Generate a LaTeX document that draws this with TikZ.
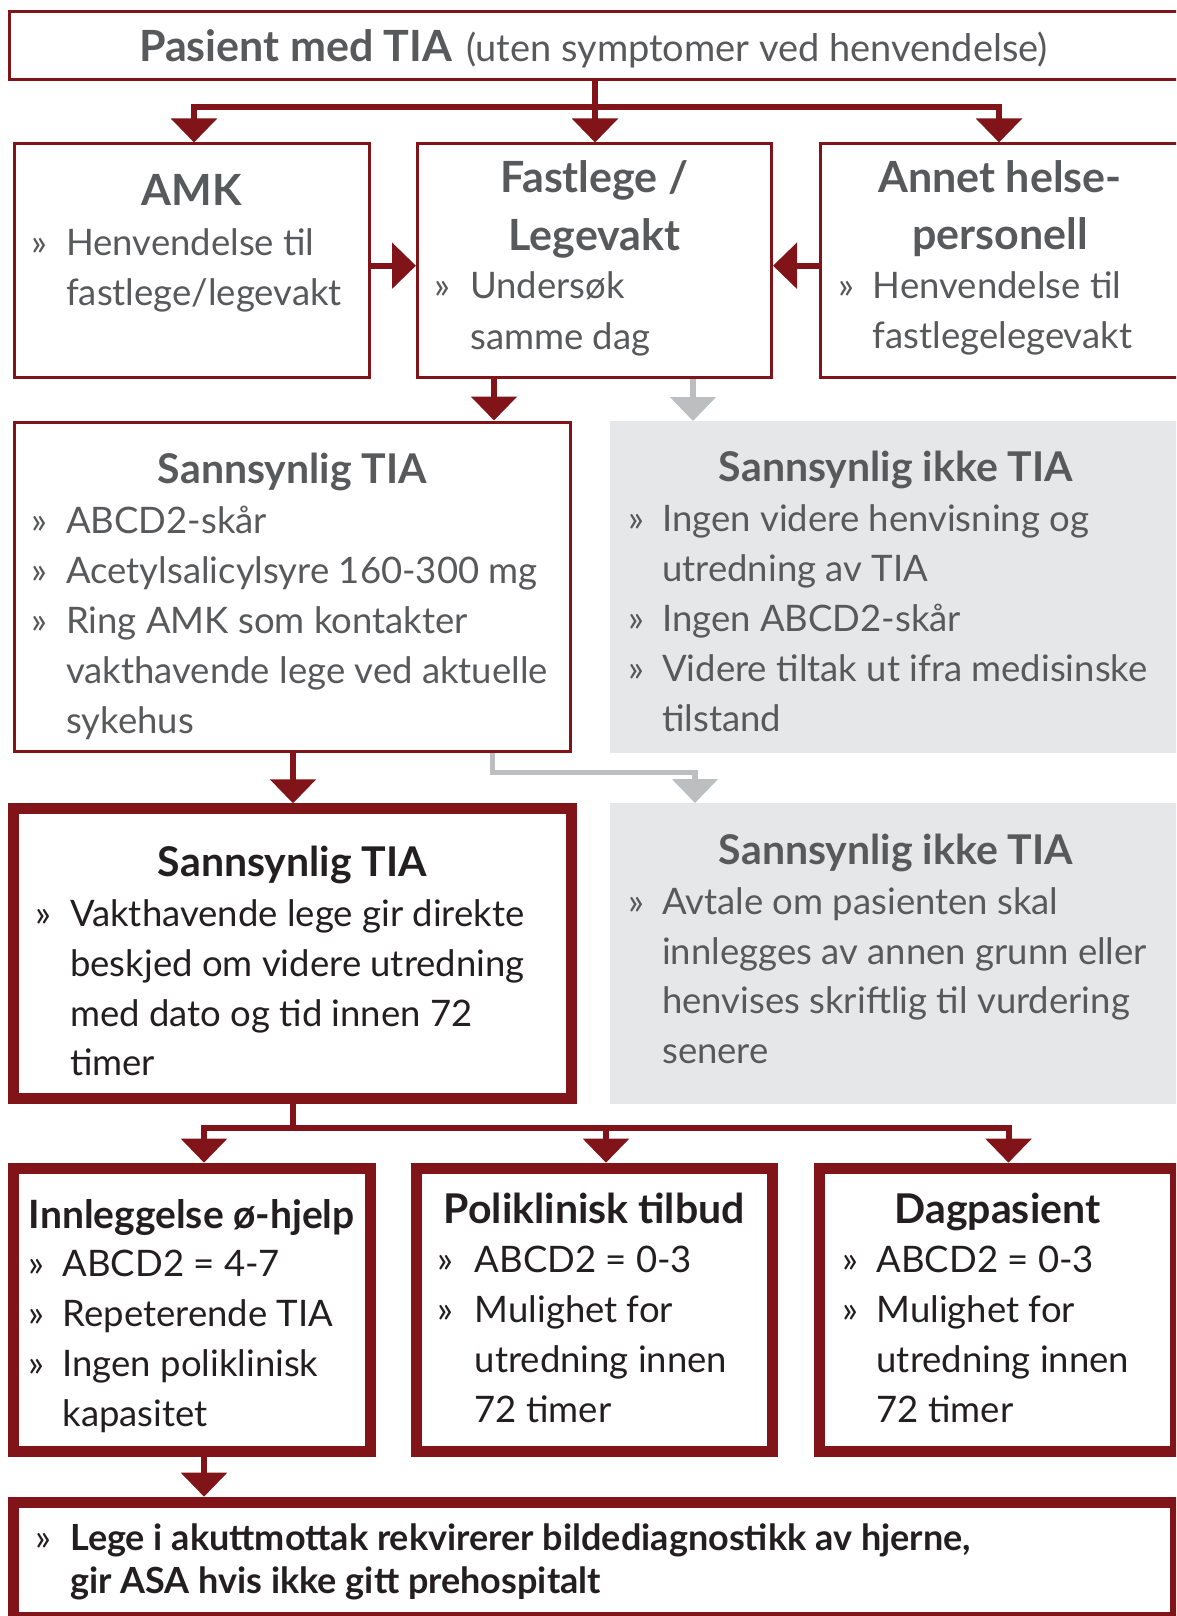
\documentclass[tikz,border=0pt]{standalone}
\usepackage{fontspec}
\setmainfont{Lato}
\usetikzlibrary{arrows.meta}
\definecolor{dkred}{RGB}{128,20,24}
\definecolor{gtxt}{RGB}{88,89,91}
\definecolor{btxt}{RGB}{35,31,32}
\definecolor{gfill}{RGB}{230,231,232}
\definecolor{garrow}{RGB}{188,190,192}
\begin{document}
\begin{tikzpicture}[x=1pt,y=-1pt,
 thinbox/.style={draw=dkred,line width=3pt,inner sep=0pt,fill=white},
 thickbox/.style={draw=dkred,line width=11pt,inner sep=0pt,fill=white},
 graybox/.style={fill=gfill,inner sep=0pt,outer sep=0pt},
 conn/.style={draw=dkred,line width=6pt},
 gconn/.style={draw=garrow,line width=5.5pt},
 arr/.style={-{Triangle[width=45pt,length=24pt]}},
 ttl/.style={anchor=base,inner sep=0pt,font=\fontsize{41}{50}\selectfont\bfseries},
 ttlbig/.style={anchor=base,inner sep=0pt,font=\fontsize{43}{50}\selectfont\bfseries},
 ttlsm/.style={anchor=base,inner sep=0pt,font=\fontsize{39}{50}\selectfont\bfseries},
 bodytxt/.style={anchor=base west,inner sep=0pt,font=\fontsize{36.5}{50}\selectfont},
 bottxt/.style={anchor=base west,inner sep=0pt,font=\fontsize{36}{43}\selectfont\bfseries},
 bul/.style={anchor=base west,inner sep=0pt,font=\fontsize{37}{50}\selectfont},
 gc/.style={text=gtxt}, bc/.style={text=btxt}
]
\useasboundingbox (0,0) rectangle (1176,1616);
\clip (0,0) rectangle (1176,1616);

% boxes
\node[thinbox,minimum width=1177pt,minimum height=68pt] (top) at (597.5,46) {};
\node[thinbox,minimum width=355pt,minimum height=233pt] (amk) at (191.5,260.5) {};
\node[thinbox,minimum width=354pt,minimum height=233pt] (fast) at (594.5,260.5) {};
\node[thinbox,minimum width=360.5pt,minimum height=233pt] (annet) at (1000.75,260.5) {};
\node[thinbox,minimum width=556.5pt,minimum height=329.5pt] (tia1) at (292.25,586.75) {};
\node[graybox,minimum width=572pt,minimum height=332pt] (ikke1) at (896,587) {};
\node[graybox,minimum width=572pt,minimum height=301pt] (ikke2) at (896,953.5) {};
\node[thickbox,minimum width=558.3pt,minimum height=289.7pt] (tia2) at (292.35,953.65) {};
\node[thickbox,minimum width=357.1pt,minimum height=283.3pt] (inn) at (191.75,1309.85) {};
\node[thickbox,minimum width=356.4pt,minimum height=283.3pt] (poli) at (594.3,1309.85) {};
\node[thickbox,minimum width=356pt,minimum height=283.3pt] (dag) at (997.5,1309.85) {};
\node[thickbox,minimum width=1162.3pt,minimum height=115pt] (bot) at (594.35,1559.7) {};

% connectors
\coordinate (tM) at (595,106.7);
\coordinate (tL) at (194,106.7);
\coordinate (tR) at (999,106.7);
\draw[conn] (top.south -| tM) -- (tM);
\draw[conn,arr] (tM) -- (tL) -- (amk.north -| tL);
\draw[conn,arr] (tM) -- (tR) -- (annet.north -| tR);
\draw[conn,arr] (tM) -- (fast.north -| tM);

\coordinate (hA) at (392,265.7);
\draw[conn,arr] (amk.east |- hA) -- (fast.west |- hA);
\draw[conn,arr] (annet.west |- hA) -- (fast.east |- hA);

\coordinate (dA) at (494,400);
\coordinate (dB) at (693,400);
\draw[conn,arr] (fast.south -| dA) -- (tia1.north -| dA);
\draw[gconn,arr] (fast.south -| dB) -- (ikke1.north -| dB);

\coordinate (dC) at (293,780);
\draw[conn,arr] (tia1.south -| dC) -- (tia2.north -| dC);
\coordinate (g1) at (492.5,772.7);
\coordinate (g2) at (695,772.7);
\draw[gconn,arr] (tia1.south -| g1) -- (g1) -- (g2) -- (ikke2.north -| g2);

\coordinate (m0) at (293,1128);
\coordinate (mL) at (204,1128);
\coordinate (mM) at (606,1128);
\coordinate (mR) at (1008.5,1128);
\draw[conn] (tia2.south -| m0) -- (m0);
\draw[conn,arr] (m0) -- (mL) -- (inn.north -| mL);
\draw[conn,arr] (m0) -- (mR) -- (dag.north -| mR);
\draw[conn,arr] (mM) -- (poli.north -| mM);
\coordinate (mB) at (204,1470);
\draw[conn,arr] (inn.south -| mB) -- (bot.north -| mB);

% texts: top
\node[anchor=base,inner sep=0pt,gc] (ttop) at (593.5,61.7) {{\fontsize{43}{50}\selectfont\bfseries Pasient med TIA}\hspace{14pt}{\fontsize{38}{50}\selectfont(uten symptomer ved henvendelse)}};

% AMK
\node[ttlbig,gc] (a0) at (191.5,206) {AMK};
\node[bul,gc] (ab1) at (31,255) {»};
\node[bodytxt,gc] (a1) at (66,255) {Henvendelse til};
\node[bodytxt,gc] (a2) at (66,305) {fastlege/legevakt};

% Fastlege
\node[ttlbig,gc] (f0) at (594.5,192.7) {Fastlege /};
\node[ttlbig,gc] (f00) at (594.5,250) {Legevakt};
\node[bul,gc] (fb1) at (434.5,298.3) {»};
\node[bodytxt,gc] (f1) at (470,298.3) {Undersøk};
\node[bodytxt,gc] (f2) at (470,349) {samme dag};

% Annet
\node[ttlbig,gc] (n0) at (1000,192.7) {Annet helse-};
\node[ttlbig,gc] (n00) at (1000,249) {personell};
\node[bul,gc] (nb1) at (838.5,298) {»};
\node[bodytxt,gc] (n1) at (872.6,298) {Henvendelse til};
\node[bodytxt,gc] (n2) at (872.6,348) {fastlegelegevakt};

% TIA1
\node[ttl,gc] (s0) at (292.5,483) {Sannsynlig TIA};
\node[bul,gc] (sb1) at (31.5,533) {»};
\node[bul,gc] (sb2) at (31.5,583) {»};
\node[bul,gc] (sb3) at (31.5,633) {»};
\node[bodytxt,gc] (s1) at (66,533) {ABCD2-skår};
\node[bodytxt,gc] (s2) at (66,583) {Acetylsalicylsyre 160-300 mg};
\node[bodytxt,gc] (s3) at (66,633) {Ring AMK som kontakter};
\node[bodytxt,gc] (s4) at (66,683) {vakthavende lege ved aktuelle};
\node[bodytxt,gc] (s5) at (66,733) {sykehus};

% ikke1
\node[ttl,gc] (k0) at (896,481.7) {Sannsynlig ikke TIA};
\node[bul,gc] (kb1) at (628,531.7) {»};
\node[bul,gc] (kb2) at (628,631.2) {»};
\node[bul,gc] (kb3) at (628,681.7) {»};
\node[bodytxt,gc] (k1) at (662,531.7) {Ingen videre henvisning og};
\node[bodytxt,gc] (k2) at (662,581.7) {utredning av TIA};
\node[bodytxt,gc] (k3) at (662,631.2) {Ingen ABCD2-skår};
\node[bodytxt,gc] (k4) at (662,681.7) {Videre tiltak ut ifra medisinske};
\node[bodytxt,gc] (k5) at (662,731.7) {tilstand};

% TIA2
\node[ttl,bc] (u0) at (292.5,876) {Sannsynlig TIA};
\node[bul,bc] (ub1) at (35.5,926.7) {»};
\node[bodytxt,bc] (u1) at (70,926.7) {Vakthavende lege gir direkte};
\node[bodytxt,bc] (u2) at (70,976.7) {beskjed om videre utredning};
\node[bodytxt,bc] (u3) at (70,1026.5) {med dato og tid innen 72};
\node[bodytxt,bc] (u4) at (70,1075.5) {timer};

% ikke2
\node[ttl,gc] (v0) at (896,864.3) {Sannsynlig ikke TIA};
\node[bul,gc] (vb1) at (628,914) {»};
\node[bodytxt,gc] (v1) at (662,914) {Avtale om pasienten skal};
\node[bodytxt,gc] (v2) at (662,964) {innlegges av annen grunn eller};
\node[bodytxt,gc] (v3) at (662,1013.5) {henvises skriftlig til vurdering};
\node[bodytxt,gc] (v4) at (662,1063) {senere};

% Innleggelse
\node[ttlsm,bc] (i0) at (191.75,1228) {Innleggelse ø-hjelp};
\node[bul,bc] (ib1) at (28.5,1276.7) {»};
\node[bul,bc] (ib2) at (28.5,1326.7) {»};
\node[bul,bc] (ib3) at (28.5,1376.7) {»};
\node[bodytxt,bc] (i1) at (62.4,1276.7) {ABCD2 = 4-7};
\node[bodytxt,bc] (i2) at (62.4,1326.7) {Repeterende TIA};
\node[bodytxt,bc] (i3) at (62.4,1376.7) {Ingen poliklinisk};
\node[bodytxt,bc] (i4) at (62.4,1426.7) {kapasitet};

% Poliklinisk
\node[ttl,bc] (p0) at (594.3,1223.3) {Poliklinisk tilbud};
\node[bul,bc] (pb1) at (437.5,1272.7) {»};
\node[bul,bc] (pb2) at (437.5,1322.7) {»};
\node[bodytxt,bc] (p1) at (474.5,1272.7) {ABCD2 = 0-3};
\node[bodytxt,bc] (p2) at (474.5,1322.7) {Mulighet for};
\node[bodytxt,bc] (p3) at (474.5,1372.3) {utredning innen};
\node[bodytxt,bc] (p4) at (474.5,1422) {72 timer};

% Dagpasient
\node[ttl,bc] (d0) at (997.5,1223.3) {Dagpasient};
\node[bul,bc] (db1) at (842.5,1272.7) {»};
\node[bul,bc] (db2) at (842.5,1322.7) {»};
\node[bodytxt,bc] (d1) at (876.4,1272.7) {ABCD2 = 0-3};
\node[bodytxt,bc] (d2) at (876.4,1322.7) {Mulighet for};
\node[bodytxt,bc] (d3) at (876.4,1372.3) {utredning innen};
\node[bodytxt,bc] (d4) at (876.4,1422) {72 timer};

% bottom
\node[bul,bc] (bb1) at (35.5,1550) {»};
\node[bottxt,bc] (b1) at (70,1550) {Lege i akuttmottak rekvirerer bildediagnostikk av hjerne,};
\node[bottxt,bc] (b2) at (70,1593) {gir ASA hvis ikke gitt prehospitalt};
\end{tikzpicture}
\end{document}
